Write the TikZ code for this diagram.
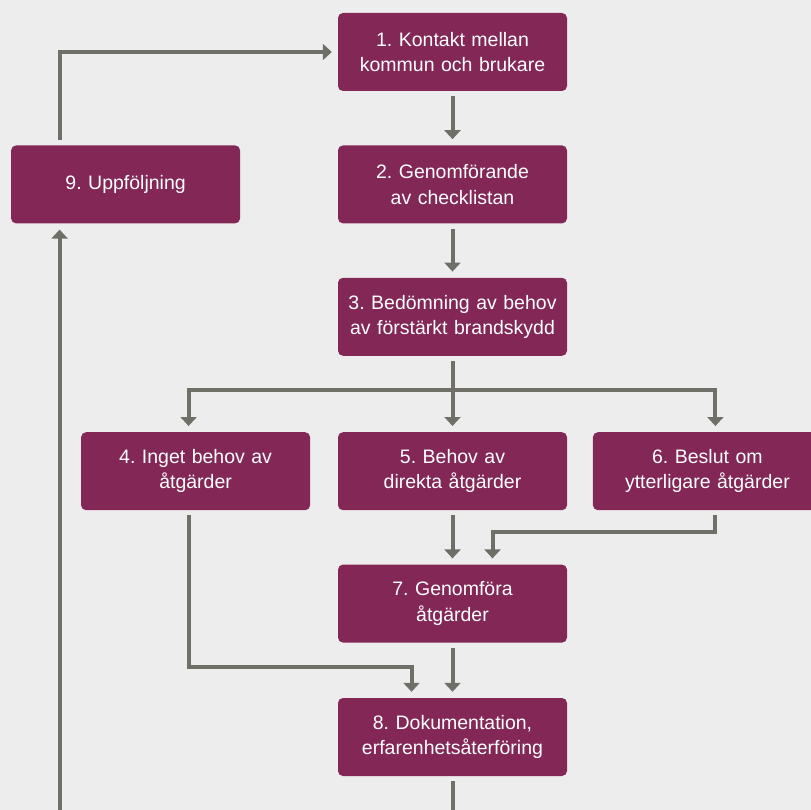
\documentclass[tikz,border=0pt]{standalone}
\usepackage{fontspec}
\setmainfont{Liberation Sans}
\usetikzlibrary{positioning,calc,arrows.meta}
\definecolor{boxred}{HTML}{822756}
\definecolor{linegray}{HTML}{6F6F68}
\definecolor{backgray}{HTML}{EDEDED}
\frenchspacing

\begin{document}
\begin{tikzpicture}[x=1pt,y=1pt,>={Triangle[width=16pt,length=9pt]},
    stepbox/.style={fill=boxred,text=white,rounded corners=5pt,
      minimum width=229pt,minimum height=78pt,text width=222pt,
      align=center,inner sep=0pt,font=\fontsize{19.5}{25.5}\selectfont},
    flow/.style={draw=linegray,line width=4pt,shorten <=5pt,shorten >=6pt}]
    \fill[backgray] (0,0) rectangle (811,-810);
    \useasboundingbox (0,0) rectangle (811,-810);

    % steps
    \node[stepbox] (k1) at (452.5,-52) {1. Kontakt mellan\\kommun och brukare};
    \node[stepbox,below=54pt of k1] (k2) {2. Genomförande\\av checklistan};
    \node[stepbox,below=54pt of k2] (k3) {3. Bedömning av behov\\av förstärkt brandskydd};
    \node[stepbox,below=76pt of k3] (k5) {5. Behov av\\direkta åtgärder};
    \node[stepbox,left=27.5pt of k5] (k4) {4. Inget behov av\\åtgärder};
    \node[stepbox,right=25.5pt of k5] (k6) {6. Beslut om\\ytterligare åtgärder};
    \node[stepbox,below=54pt of k5] (k7) {7. Genomföra\\åtgärder};
    \node[stepbox,below=55pt of k7] (k8) {8. Dokumentation,\\erfarenhetsåterföring};
    \node[stepbox,left=97.5pt of k2] (k9) {9. Uppföljning};

    % connector ends
    \coordinate (fork) at ([yshift=-34pt]k3.south);
    \coordinate (a4) at ([xshift=-7pt]k4.north);
    \coordinate (a6) at ([xshift=8pt]k6.north);
    \coordinate (e4) at ([xshift=-7pt]k4.south);
    \coordinate (e6) at ([xshift=8pt]k6.south);
    \coordinate (a7) at ([xshift=40pt]k7.north);
    \coordinate (a8) at ([xshift=-41pt]k8.north);
    \coordinate (top9) at ([xshift=-66pt]k9.north);
    \coordinate (bot9) at ([xshift=-66pt]k9.south);
    \coordinate (low9) at (bot9 |- 0,-812);
    \coordinate (low8) at (k8.south |- 0,-812);

    \draw[flow,->] (k1) -- (k2);
    \draw[flow,->] (k2) -- (k3);
    \draw[flow,shorten >=0pt] (k3) -- (fork);
    \draw[flow,->,shorten <=0pt] (fork) -- (k5);
    \draw[flow,->,shorten <=0pt] (fork) -| (a4);
    \draw[flow,->,shorten <=0pt] (fork) -| (a6);
    \draw[flow,->] (e4) |- ([yshift=31pt]a8) -- (a8);
    \draw[flow,->] (k5) -- (k7);
    \draw[flow,->] (e6) |- ([yshift=32pt]a7) -- (a7);
    \draw[flow,->] (k7) -- (k8);
    \draw[flow,shorten >=0pt] (k8) -- (low8);
    \draw[flow,->,shorten <=0pt] (low9) -- (bot9);
    \draw[flow,->] (top9) |- (k1);
\end{tikzpicture}
\end{document}
